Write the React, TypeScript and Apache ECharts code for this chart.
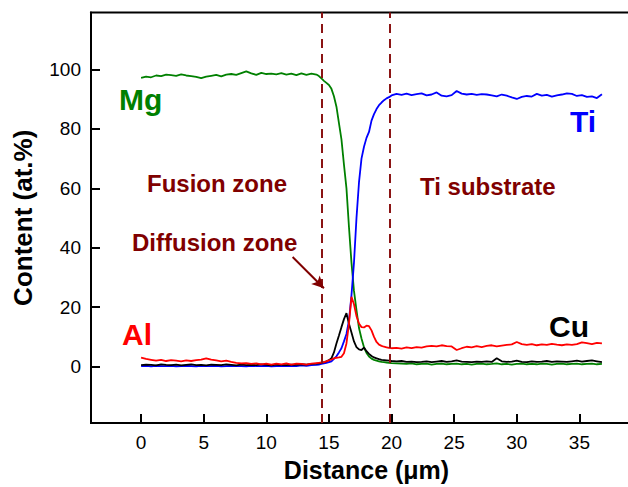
import React, { useEffect, useRef } from "react";
import * as echarts from "echarts";

// Line-scan distance (µm)
const distance = [
  0, 0.4, 0.8, 1.2, 1.6, 2.0, 2.4, 2.8, 3.2, 3.6, 4.0, 4.4, 4.8, 5.2, 5.6, 6.0, 6.4, 6.8,
  7.2, 7.6, 8.0, 8.4, 8.8, 9.2, 9.6, 10.0, 10.4, 10.8, 11.2, 11.6, 12.0, 12.4, 12.8, 13.2, 13.6, 14.0,
  14.2, 14.4, 14.6, 14.8, 15.0, 15.2, 15.4, 15.6, 15.8, 16.0, 16.2, 16.4, 16.6, 16.8, 17.0,
  17.2, 17.4, 17.6, 17.8, 18.0, 18.2, 18.4, 18.6, 18.8, 19.0, 19.2, 19.4, 19.6, 19.8, 20.0,
  20.4, 20.8, 21.2, 21.6, 22.0, 22.4, 22.8, 23.2, 23.6, 24.0, 24.4, 24.8, 25.2, 25.6, 26.0,
  26.4, 26.8, 27.2, 27.6, 28.0, 28.4, 28.8, 29.2, 29.6, 30.0, 30.4, 30.8, 31.2, 31.6, 32.0,
  32.4, 32.8, 33.2, 33.6, 34.0, 34.4, 34.8, 35.2, 35.6, 36.0, 36.4, 36.8,
];

// Element content (at.%)
const mg = [
  97.2, 97.6, 97.4, 98.0, 97.8, 98.3, 98.1, 97.9, 98.4, 98.0,
  97.8, 97.5, 97.1, 97.6, 97.9, 98.2, 97.7, 98.3, 98.5, 98.2,
  98.8, 99.4, 98.7, 98.2, 98.9, 98.5, 98.6, 98.4, 98.8, 98.3,
  98.6, 98.1, 98.7, 98.2, 98.6, 98.3,
  97.8, 97.0, 96.2, 95.5, 94.8, 93.5, 91, 87.5, 82, 76.5,
  68, 60, 47, 35, 25.5, 19, 13, 9.5, 6.5, 4.6,
  3.4, 2.7, 2.3, 2.0, 1.8, 1.6, 1.5, 1.4, 1.3, 1.2,
  1.1, 1.0, 0.9, 1.1, 0.8, 0.9, 1.0, 0.7, 0.9, 1.0,
  0.8, 0.9, 1.0, 0.8, 0.9, 0.7, 0.9, 1.0, 0.8, 0.9,
  1.1, 0.8, 0.9, 0.7, 0.9, 1.0, 0.8, 0.9, 0.8, 1.0,
  0.9, 0.7, 0.9, 1.0, 0.8, 0.9, 1.0, 0.8, 0.9, 1.0,
  0.8, 0.9,
];

const ti = [
  0.2, 0.3, 0.1, 0.3, 0.2, 0.2, 0.3, 0.1, 0.2, 0.3,
  0.2, 0.1, 0.3, 0.2, 0.2, 0.3, 0.1, 0.2, 0.3, 0.2,
  0.2, 0.1, 0.3, 0.2, 0.2, 0.3, 0.1, 0.2, 0.3, 0.2,
  0.3, 0.2, 0.4, 0.3, 0.5, 0.6,
  0.7, 0.9, 1.1, 1.3, 1.5, 1.8, 2.6, 3.5, 4.8, 6.2,
  8.5, 11, 15.5, 24, 35, 50, 62, 70, 74, 77,
  79, 82.8, 85, 86.7, 88, 88.9, 89.7, 90.3, 90.7, 91.3,
  91.8, 91.5, 91.9, 91.4, 91.7, 92.0, 91.3, 91.6, 92.3, 91.2,
  91.0, 91.4, 92.8, 91.9, 91.6, 91.8, 91.5, 91.7, 91.6, 91.3,
  91.0, 91.6, 91.2, 90.6, 90.1, 90.8, 91.1, 90.9, 91.8, 91.2,
  91.5, 90.9, 91.3, 91.6, 92.0, 91.8, 91.1, 91.4, 90.8, 91.0,
  90.4, 91.7,
];

const al = [
  3.0, 2.6, 2.3, 2.0, 2.3, 1.9, 2.2, 2.0, 1.8, 2.1,
  1.9, 2.2, 2.4, 2.8, 2.4, 2.1, 1.8, 2.0, 1.6, 1.3,
  1.1, 1.2, 0.9, 1.1, 0.8, 1.0, 0.7, 1.0, 0.8, 1.1,
  0.7, 1.0, 0.9, 0.7, 1.0, 1.2,
  1.3, 1.4, 1.5, 1.8, 2.1, 2.4, 2.8, 3.0, 3.1, 3.3,
  4.5, 7.8, 14.4, 23.5, 21, 17, 14.5, 13.3, 13.2, 13.8,
  13.6, 12.2, 10.0, 8.3, 7.4, 7.0, 6.7, 6.5, 6.3, 6.2,
  6.3, 6.1, 6.5, 6.2, 6.6, 6.4, 6.8, 7.0, 6.8, 7.2,
  6.9, 6.8, 5.6, 6.2, 6.7, 6.5, 6.9, 6.6, 7.0, 7.2,
  6.8, 7.1, 7.3, 7.5, 8.3, 7.6, 7.3, 7.6, 7.2, 7.5,
  7.3, 7.7, 7.4, 7.2, 7.5, 7.3, 7.6, 8.2, 7.9, 7.6,
  8.0, 7.8,
];

const cu = [
  0.5, 0.7, 0.6, 0.4, 0.8, 0.6, 0.5, 0.7, 0.4, 0.6,
  0.8, 0.5, 0.6, 0.4, 0.7, 0.6, 0.5, 0.8, 0.6, 0.4,
  0.7, 0.5, 0.6, 0.5, 0.8, 0.6, 0.4, 0.7, 0.6, 0.5,
  0.7, 0.6, 0.8, 0.7, 0.9, 1.0,
  1.1, 1.3, 1.5, 1.8, 2.2, 2.8, 4.8, 7.8, 10.5, 13.3,
  16, 18, 14.4, 11.5, 8.5, 6.6, 5.8, 5.6, 6.4, 5.2,
  4.3, 3.6, 3.1, 2.8, 2.5, 2.3, 2.2, 2.1, 2.0, 1.9,
  1.8, 1.9, 1.6, 1.7, 1.5, 1.6, 1.8, 1.5, 1.7, 1.9,
  1.6, 1.8, 2.1, 1.7, 1.6, 1.5, 1.7, 1.6, 1.8, 1.6,
  2.8, 1.8, 1.6, 1.7, 2.0, 1.6, 1.5, 1.8, 1.6, 1.7,
  1.9, 1.6, 1.8, 1.7, 1.6, 1.8, 2.0, 1.7, 1.9, 2.1,
  1.8, 1.5,
];

const xTicks = [0, 5, 10, 15, 20, 25, 30, 35];
const yTicks = [0, 20, 40, 60, 80, 100];
const zoneBounds = [14.4, 19.85];
const arrowFrom = [12.1, 36.9];
const arrowTo = [14.6, 26.4];

const FONT = "'Liberation Sans', Arial, Helvetica, sans-serif";
const ZONE_COLOR = "#800000";

// The plot frame runs on past the right edge of the visible window.
const VIEW_W = 628;
const VIEW_H = 487;
const CHART_W = 660;

const pairs = (ys: number[]) => distance.map((d, i) => [d, ys[i]]);

function label(text: string, x: number, y: number, color: string, size: number) {
  return {
    type: "text",
    x,
    y,
    silent: true,
    style: {
      text,
      fill: color,
      font: `bold ${size}px ${FONT}`,
      align: "left",
      verticalAlign: "middle",
      textAlign: "left",
      textVerticalAlign: "middle",
    },
  };
}

export default function App() {
  const ref = useRef<HTMLDivElement>(null);

  useEffect(() => {
    if (!ref.current) return;
    const chart = echarts.init(ref.current, null, { renderer: "svg" });

    const lineSeries = (name: string, ys: number[], color: string, extra: any = {}) => ({
      name,
      type: "line",
      data: pairs(ys),
      showSymbol: false,
      symbol: "none",
      lineStyle: { color, width: 1.8 },
      itemStyle: { color },
      ...extra,
    });

    chart.setOption({
      animation: false,
      textStyle: { fontFamily: FONT },
      grid: {
        left: 91,
        top: 12.5,
        right: 18,
        bottom: 60,
        show: true,
        borderColor: "#000",
        borderWidth: 2,
        backgroundColor: "transparent",
      },
      xAxis: {
        type: "value",
        min: -4,
        max: 40,
        name: "Distance (μm)",
        nameLocation: "middle",
        nameGap: 33,
        nameTextStyle: { fontFamily: FONT, fontWeight: "bold", fontSize: 25, color: "#000" },
        axisLine: { show: true, onZero: false, lineStyle: { color: "#000", width: 2 } },
        axisTick: {
          show: true,
          inside: true,
          length: 9,
          customValues: xTicks,
          lineStyle: { color: "#000", width: 2 },
        },
        axisLabel: {
          customValues: xTicks,
          margin: 10,
          fontSize: 19,
          color: "#000",
          fontFamily: FONT,
        },
        splitLine: { show: false },
      },
      yAxis: {
        type: "value",
        min: -19,
        max: 119.2,
        name: "Content (at.%)",
        nameLocation: "middle",
        nameGap: 55,
        nameTextStyle: { fontFamily: FONT, fontWeight: "bold", fontSize: 26, color: "#000" },
        axisLine: { show: true, onZero: false, lineStyle: { color: "#000", width: 2 } },
        axisTick: {
          show: true,
          inside: true,
          length: 9,
          customValues: yTicks,
          lineStyle: { color: "#000", width: 2 },
        },
        axisLabel: {
          customValues: yTicks,
          margin: 10,
          fontSize: 19,
          color: "#000",
          fontFamily: FONT,
        },
        splitLine: { show: false },
      },
      series: [
        lineSeries("Mg", mg, "#008000", {
          markLine: {
            silent: true,
            symbol: "none",
            label: { show: false },
            lineStyle: { color: "#8b1414", width: 2, type: [9, 6] },
            data: [
              { xAxis: zoneBounds[0] },
              { xAxis: zoneBounds[1] },
              [
                {
                  coord: arrowFrom,
                  symbol: "none",
                  lineStyle: { color: ZONE_COLOR, width: 2, type: "solid" },
                },
                { coord: arrowTo, symbol: "arrow", symbolSize: [9, 12] },
              ],
            ],
          },
        }),
        lineSeries("Ti", ti, "#0000ff"),
        lineSeries("Cu", cu, "#000000"),
        lineSeries("Al", al, "#ff0000"),
      ],
      graphic: [
        label("Mg", 119, 99, "#008000", 30),
        label("Ti", 570, 121, "#0000ff", 30),
        label("Al", 122, 334, "#ff0000", 30),
        label("Cu", 549, 326, "#000000", 30),
        label("Fusion zone", 147, 183, ZONE_COLOR, 24),
        label("Diffusion zone", 132, 242, ZONE_COLOR, 24),
        label("Ti substrate", 420, 186, ZONE_COLOR, 24),
      ],
    });

    return () => chart.dispose();
  }, []);

  return (
    <div
      style={{
        position: "fixed",
        left: 0,
        top: 0,
        width: VIEW_W,
        height: VIEW_H,
        overflow: "hidden",
        background: "#fff",
      }}
    >
      <div ref={ref} style={{ width: CHART_W, height: VIEW_H }} />
    </div>
  );
}
